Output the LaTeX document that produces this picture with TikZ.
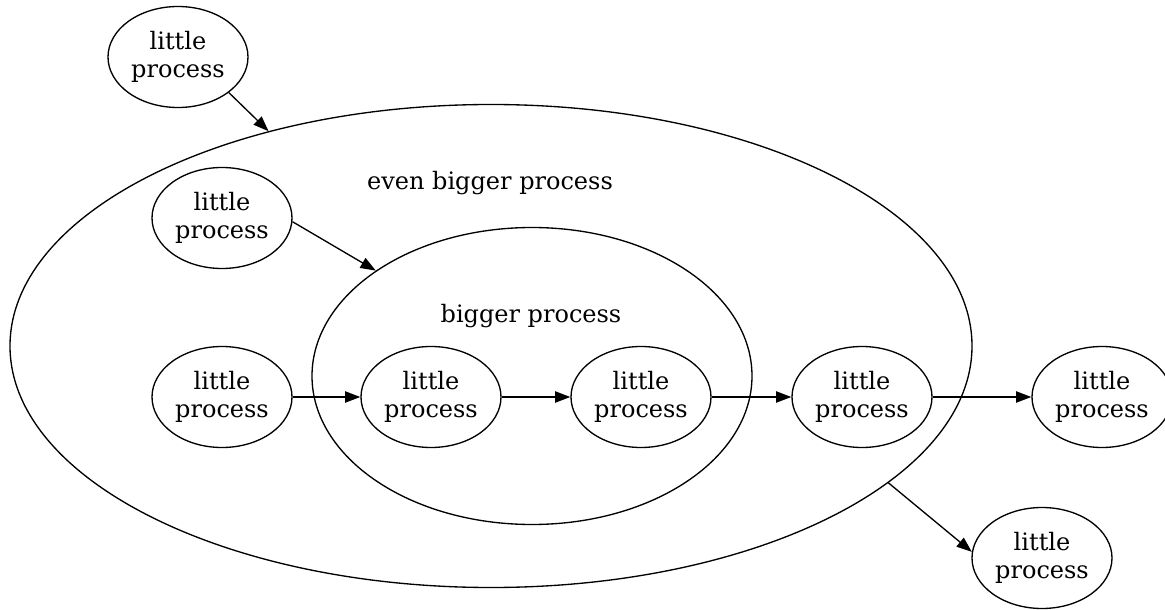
\documentclass[tikz,border=0pt]{standalone}
\usepackage{fontspec}
\setmainfont{DejaVu Serif}
\usetikzlibrary{shapes.geometric,arrows.meta}
\begin{document}
\begin{tikzpicture}[x=0.75pt,y=-0.75pt,
  proc/.style={draw, ellipse, line width=1pt, minimum width=105pt,
    minimum height=75.75pt, inner sep=0pt, align=center,
    font=\fontsize{18}{21}\selectfont},
  cluster/.style={draw, ellipse, line width=1pt, inner sep=0pt},
  lbl/.style={anchor=base, font=\fontsize{18}{21}\selectfont},
  flow/.style={-{Triangle[length=11.5pt,width=8.5pt]}, line width=1pt}]
\useasboundingbox (0,0) rectangle (1165,610);

% nested clusters
\node[cluster, minimum width=721.5pt, minimum height=362.25pt] (outer) at (491,346) {};
\node[cluster, minimum width=330pt, minimum height=222.75pt] (inner) at (532,376) {};
\node[lbl] (outerlbl) at (490,190) {even bigger process};
\node[lbl] (innerlbl) at (531,322) {bigger process};

% processes
\node[proc] (tl) at (178,57)  {little\\process};
\node[proc] (lt) at (222,218) {little\\process};
\node[proc] (lm) at (222,397) {little\\process};
\node[proc] (pa) at (431,397) {little\\process};
\node[proc] (pb) at (641,397) {little\\process};
\node[proc] (pc) at (862,397) {little\\process};
\node[proc] (pr) at (1102,397) {little\\process};
\node[proc] (br) at (1042,558) {little\\process};

% connectors
\draw[flow] (tl.-35) -- (outer.136);
\draw[flow] (lt.-3) -- (inner.146.5);
\draw[flow] (lm) -- (pa);
\draw[flow] (pa) -- (pb);
\draw[flow] (pb) -- (pc);
\draw[flow] (pc) -- (pr);
\draw[flow] (outer.-19.7) -- (br.175);
\end{tikzpicture}
\end{document}
